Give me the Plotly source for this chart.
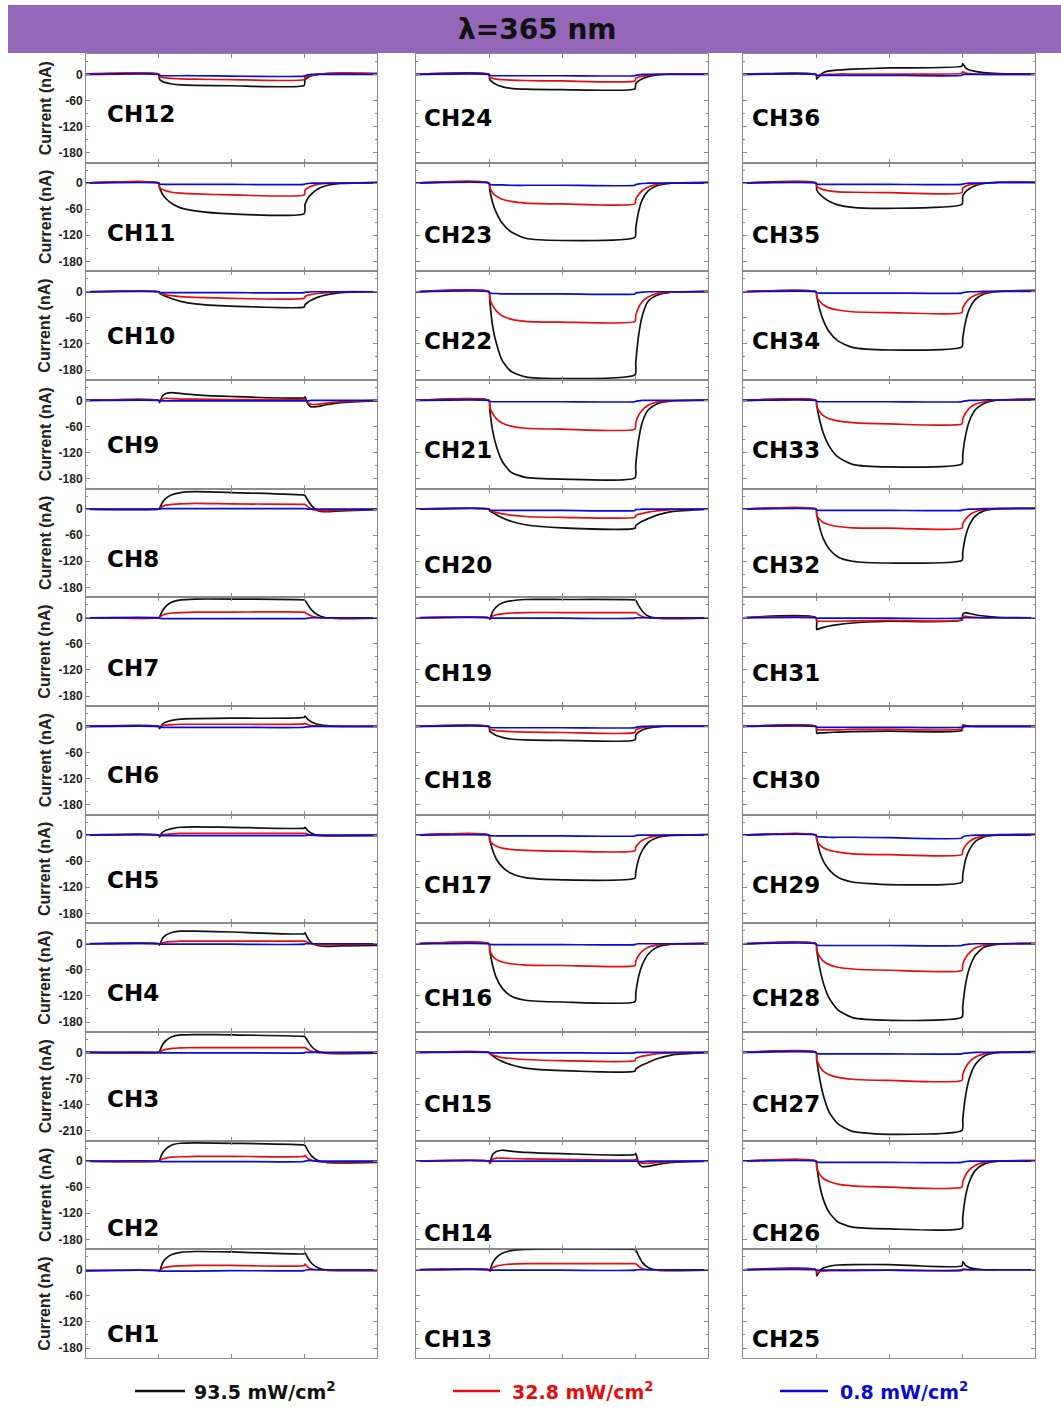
import plotly.graph_objects as go

# ---------------------------------------------------------------------------
# Photocurrent transients of a 36-channel array under 365 nm illumination.
# Light is switched on at t = 1 and off at t = 3 (arbitrary time units).
# ---------------------------------------------------------------------------

T_GRID = [0, 1.0, 1.01, 1.05, 1.1, 1.18, 1.3, 1.5, 2.0, 3.0,
          3.01, 3.05, 3.1, 3.18, 3.3, 3.5, 4.0]

INTENSITY_LABELS = ["93.5 mW/cm<sup>2</sup>", "32.8 mW/cm<sup>2</sup>", "0.8 mW/cm<sup>2</sup>"]

# current (nA) at 93.5 mW/cm2, sampled on T_GRID
CURRENT_93_5 = {
    1: [-2, -2, -4, 15, 26, 35, 40, 42, 41, 37, 39, 27, 15, 5, -1, -2, -2],
    2: [0, 0, 2, 18, 28, 37, 41, 42, 41, 37, 36, 24, 12, 2, -3, -4, -3],
    3: [0, 0, 2, 20, 32, 42, 47, 48, 47, 43, 42, 30, 16, 4, -2, -3, -2],
    4: [0, 0, -3, 12, 20, 26, 29, 29, 27, 23, 25, 12, 2, -4, -6, -5, -4],
    5: [0, 0, -4, 6, 11, 15, 18, 19, 18, 16, 18, 10, 4, 0, -2, -2, -1],
    6: [0, 0, -5, 5, 10, 14, 17, 18, 19, 21, 24, 16, 10, 5, 2, 0, 0],
    7: [0, 0, 2, 16, 27, 36, 41, 43, 43, 41, 40, 30, 18, 7, 0, -2, -1],
    8: [0, 0, 2, 15, 25, 33, 38, 40, 38, 32, 31, 20, 8, -3, -6, -4, -1],
    9: [0, 0, -5, 10, 16, 18, 16, 13, 9, 6, 8, -8, -15, -14, -10, -5, -1],
    10: [0, 0, -3, -7, -11, -16, -22, -28, -33, -35, -30, -24, -19, -13, -7, -2, 0],
    11: [0, 0, -10, -25, -36, -47, -57, -64, -71, -70, -50, -35, -25, -14, -6, -1, 1],
    12: [0, 0, -11, -16, -19, -22, -24, -25, -26, -25, -12, -7, -3, 0, 2, 3, 2],
    13: [0, 0, -2, 16, 28, 38, 44, 47, 48, 47, 46, 32, 17, 5, -1, -2, -1],
    14: [0, 0, -3, 15, 22, 25, 23, 20, 17, 15, 18, -5, -13, -12, -8, -3, 0],
    15: [0, 0, -3, -9, -16, -24, -33, -42, -49, -50, -44, -39, -34, -27, -17, -7, 0],
    16: [0, 0, -15, -50, -78, -102, -120, -130, -134, -133, -115, -75, -48, -24, -8, -1, 1],
    17: [0, 0, -10, -35, -55, -73, -88, -98, -103, -99, -85, -55, -35, -17, -6, -1, 1],
    18: [0, 0, -11, -16, -21, -25, -29, -31, -32, -31, -20, -13, -8, -4, -1, 1, 1],
    19: [0, 0, -3, 14, 25, 34, 39, 42, 42, 41, 40, 28, 15, 4, -1, -2, -1],
    20: [0, 0, -4, -8, -13, -20, -28, -36, -43, -44, -38, -33, -28, -22, -14, -6, 0],
    21: [0, 0, -20, -70, -105, -140, -165, -177, -181, -178, -150, -90, -50, -22, -8, -1, 1],
    22: [0, 0, -20, -80, -118, -158, -183, -196, -200, -191, -165, -100, -55, -22, -8, -1, 1],
    23: [0, 0, -15, -45, -68, -92, -112, -127, -132, -125, -105, -65, -38, -18, -6, 0, 2],
    24: [0, 0, -12, -18, -23, -28, -32, -34, -35, -33, -22, -15, -10, -5, -1, 1, 1],
    25: [0, 0, -14, -3, 4, 8, 11, 12, 12, 9, 19, 10, 5, 2, 0, 0, 0],
    26: [0, 0, -12, -55, -88, -118, -140, -152, -156, -154, -130, -80, -48, -22, -7, 0, 1],
    27: [0, 0, -20, -70, -115, -160, -192, -212, -220, -209, -180, -115, -70, -33, -10, 0, 2],
    28: [0, 0, -15, -55, -90, -125, -152, -170, -176, -169, -145, -92, -57, -27, -8, -1, 1],
    29: [0, 0, -10, -38, -60, -80, -97, -108, -114, -108, -92, -56, -34, -15, -4, 1, 2],
    30: [0, 0, -16, -15, -15, -14, -13, -12, -11, -9, 3, 2, 1, 0, 0, 0, 0],
    31: [0, 0, -27, -25, -22, -19, -16, -12, -8, -5, 8, 12, 10, 7, 4, 1, 0],
    32: [0, 0, -12, -42, -68, -92, -110, -120, -124, -118, -100, -62, -37, -16, -4, 1, 2],
    33: [0, 0, -12, -45, -75, -105, -130, -147, -153, -146, -125, -80, -48, -22, -7, 1, 3],
    34: [0, 0, -10, -40, -66, -92, -113, -128, -134, -127, -108, -68, -40, -18, -5, 1, 3],
    35: [0, 0, -16, -25, -33, -42, -50, -56, -58, -49, -30, -20, -13, -6, -1, 2, 2],
    36: [0, 0, -11, -2, 4, 8, 10, 12, 15, 19, 25, 15, 10, 7, 4, 2, 1],
}

# current (nA) at 32.8 mW/cm2
CURRENT_32_8 = {
    1: [-2, -2, -3, 3, 6, 8, 9, 10, 10, 10, 13, 6, 2, 0, -1, -1, -1],
    2: [0, 0, 1, 5, 7, 9, 10, 11, 11, 11, 13, 6, 2, -1, -2, -2, -1],
    3: [0, 0, 1, 5, 8, 11, 12, 13, 13, 13, 13, 8, 3, 0, -1, -1, 0],
    4: [0, 0, -1, 2, 4, 5, 6, 6, 6, 6, 6, 3, 0, -2, -2, -2, -1],
    5: [0, 0, -2, 1, 2, 3, 4, 4, 4, 4, 4, 2, 0, -1, -1, -1, 0],
    6: [0, 0, -2, 2, 3, 4, 5, 5, 5, 6, 7, 4, 2, 1, 0, 0, 0],
    7: [0, 0, 1, 6, 9, 11, 12, 13, 13, 13, 12, 8, 4, 1, -1, -1, 0],
    8: [0, 0, 1, 6, 9, 11, 12, 13, 12, 11, 11, 5, 0, -3, -4, -2, 0],
    9: [0, 0, -3, 3, 5, 4, 3, 3, 2, 2, 2, -5, -9, -9, -6, -3, 0],
    10: [0, 0, -3, -5, -7, -9, -11, -13, -15, -15, -11, -8, -6, -4, -2, 0, 0],
    11: [0, 0, -10, -15, -18, -21, -23, -25, -27, -27, -17, -11, -7, -3, -1, 0, 1],
    12: [1, 1, -5, -7, -8, -9, -10, -11, -12, -12, -7, -4, -2, 0, 2, 3, 2],
    13: [0, 0, -4, 5, 8, 11, 13, 14, 14, 14, 14, 8, 3, 0, -1, 0, 0],
    14: [0, 0, -6, 4, 7, 7, 6, 5, 4, 3, 4, -2, -5, -5, -3, -1, 0],
    15: [0, 0, -3, -7, -10, -14, -16, -19, -22, -22, -16, -13, -10, -7, -3, -1, 0],
    16: [0, 0, -15, -28, -36, -42, -46, -49, -50, -50, -40, -27, -17, -8, -3, 0, 1],
    17: [0, 0, -12, -20, -25, -30, -33, -35, -37, -36, -28, -19, -12, -6, -2, 0, 1],
    18: [0, 0, -6, -8, -10, -11, -12, -13, -14, -14, -8, -5, -3, -1, 0, 1, 1],
    19: [0, 0, -4, 4, 7, 9, 11, 12, 12, 12, 12, 7, 3, 0, -1, -1, 0],
    20: [0, 0, -3, -6, -8, -11, -14, -17, -19, -19, -15, -12, -10, -7, -4, -1, 0],
    21: [0, 0, -15, -30, -42, -52, -59, -64, -66, -66, -52, -34, -22, -11, -4, -1, 1],
    22: [0, 0, -15, -32, -44, -55, -63, -68, -70, -68, -55, -36, -23, -12, -4, -1, 1],
    23: [0, 0, -10, -22, -30, -37, -42, -46, -48, -48, -38, -26, -17, -9, -3, 0, 1],
    24: [0, 0, -7, -9, -11, -12, -13, -14, -15, -15, -9, -6, -4, -2, 0, 1, 1],
    25: [0, 0, -8, -4, -3, -2, -2, -2, -1, -1, 2, 1, 0, 0, 0, 0, 0],
    26: [0, 0, -15, -30, -40, -47, -53, -57, -60, -60, -48, -32, -20, -10, -3, 0, 1],
    27: [0, 0, -18, -37, -50, -60, -67, -72, -75, -75, -60, -40, -26, -13, -4, 0, 1],
    28: [0, 0, -15, -30, -40, -48, -54, -58, -61, -61, -48, -32, -21, -10, -3, 0, 1],
    29: [0, 0, -12, -22, -29, -35, -39, -43, -45, -45, -36, -24, -15, -7, -2, 0, 1],
    30: [0, 0, -8, -8, -8, -8, -8, -7, -7, -6, -1, 0, 0, 0, 0, 0, 0],
    31: [0, 0, -8, -8, -8, -8, -8, -7, -6, -5, 3, 3, 2, 1, 0, 0, 0],
    32: [0, 0, -14, -24, -31, -36, -40, -43, -44, -44, -34, -23, -14, -6, -1, 1, 2],
    33: [0, 0, -14, -26, -35, -42, -47, -51, -54, -54, -43, -29, -18, -9, -3, 1, 2],
    34: [0, 0, -12, -22, -30, -37, -42, -46, -48, -48, -38, -26, -16, -8, -2, 1, 2],
    35: [0, 0, -8, -12, -15, -18, -20, -21, -22, -22, -12, -7, -4, -2, 0, 2, 2],
    36: [0, 0, -4, -2, -1, 0, 1, 1, 1, 3, 6, 3, 2, 1, 0, 0, 0],
}

# current (nA) at 0.8 mW/cm2
CURRENT_0_8 = {
    1: [-2, -2, -3, -3, -3, -3, -3, -3, -2, -2, -1, 0, 0, 0, 0, 0, 0],
    2: [0, 0, -1, -1, -1, -1, -1, -1, -1, -1, 0, 1, 1, 0, 0, 0, 0],
    3: [0, 0, -1, -1, -1, -1, -1, -1, -1, -1, 0, 0, 0, 0, 0, 0, 0],
    4: [0, 0, -1, -1, -1, -1, -1, -1, -1, -1, 0, 0, 0, 0, 0, 0, 0],
    5: [0, 0, -1, -1, -1, -1, -1, -1, -1, -1, -1, 0, 0, 0, 0, 0, 0],
    6: [0, 0, -1, -2, -2, -2, -2, -2, -2, -2, -1, -1, 0, 0, 0, 0, 0],
    7: [0, 0, -1, -2, -2, -2, -2, -2, -2, -2, -2, -1, 0, 0, 0, 0, 0],
    8: [0, 0, 0, 1, 1, 1, 1, 1, 1, 1, 1, 0, 0, 0, 0, 0, 0],
    9: [0, 0, -1, -1, -1, -1, -1, -1, -1, -1, -1, -1, 0, 0, 0, 0, 0],
    10: [0, 0, -1, -2, -2, -2, -2, -2, -2, -2, -1, -1, 0, 0, 0, 0, 0],
    11: [0, 0, -2, -3, -3, -3, -3, -3, -3, -3, -2, -1, 0, 0, 0, 0, 1],
    12: [0, 0, -2, -3, -3, -3, -3, -3, -4, -4, -3, -1, 0, 0, 0, 0, 0],
    13: [0, 0, -1, -1, -1, -1, -1, -1, -1, -1, 0, 0, 0, 0, 0, 0, 0],
    14: [0, 0, -1, 0, 0, 0, 0, 0, 0, 0, 0, -1, -1, 0, 0, 0, 0],
    15: [0, 0, -1, -1, -1, -1, -1, -1, -1, -1, 0, 0, 0, 0, 0, 0, 0],
    16: [0, 0, -1, -2, -2, -2, -2, -2, -2, -2, -1, 0, 0, 0, 0, 0, 0],
    17: [0, 0, -1, -2, -2, -2, -2, -2, -2, -2, -1, 0, 0, 0, 0, 0, 0],
    18: [0, 0, -2, -3, -3, -3, -3, -3, -3, -3, -2, -1, 0, 0, 0, 0, 0],
    19: [0, 0, -1, -1, -1, -1, -1, -1, -1, -1, 0, 0, 0, 0, 0, 0, 0],
    20: [0, 0, -2, -3, -3, -3, -3, -3, -3, -3, -1, -1, 0, 0, 0, 0, 0],
    21: [0, 0, -2, -3, -3, -3, -3, -3, -3, -3, -2, -1, 0, 0, 0, 0, 0],
    22: [0, 0, -3, -4, -4, -5, -5, -5, -5, -5, -3, -2, -1, 0, 0, 0, 0],
    23: [0, 0, -3, -4, -4, -4, -5, -5, -5, -5, -3, -2, -1, 0, 0, 0, 0],
    24: [0, 0, -2, -3, -3, -3, -3, -3, -3, -3, -2, -1, 0, 0, 0, 0, 0],
    25: [0, 0, -1, -1, -1, -1, -1, -1, -1, -1, 0, 0, 0, 0, 0, 0, 0],
    26: [0, 0, -2, -3, -3, -3, -3, -3, -3, -3, -2, -1, 0, 0, 0, 0, 0],
    27: [0, 0, -3, -4, -4, -4, -4, -4, -4, -4, -3, -2, -1, 0, 0, 0, 0],
    28: [0, 0, -3, -4, -4, -4, -4, -4, -4, -4, -3, -2, -1, 0, 0, 0, 0],
    29: [0, 0, -3, -4, -4, -5, -5, -5, -6, -7, -4, -2, -1, 0, 0, 0, 0],
    30: [0, 0, -2, -2, -2, -2, -2, -2, -2, -2, -1, 0, 0, 0, 0, 0, 0],
    31: [0, 0, -1, -1, -1, -1, -1, -1, -1, -1, 0, 0, 0, 0, 0, 0, 0],
    32: [0, 0, -2, -3, -3, -3, -3, -3, -3, -3, -2, -1, 0, 0, 1, 1, 1],
    33: [0, 0, -2, -3, -3, -3, -3, -3, -3, -3, -2, -1, 0, 0, 1, 1, 1],
    34: [0, 0, -2, -3, -3, -3, -3, -3, -3, -3, -2, -1, 0, 0, 1, 1, 1],
    35: [0, 0, -2, -3, -3, -3, -3, -3, -3, -3, -2, -1, 0, 0, 0, 1, 1],
    36: [0, 0, -2, -2, -2, -2, -2, -2, -2, -2, 0, 0, 0, 0, 0, 0, 0],
}

# panel arrangement: rows top to bottom, columns left to right
CHANNEL_GRID = [
    [12, 24, 36], [11, 23, 35], [10, 22, 34], [9, 21, 33],
    [8, 20, 32], [7, 19, 31], [6, 18, 30], [5, 17, 29],
    [4, 16, 28], [3, 15, 27], [2, 14, 26], [1, 13, 25],
]

YTICKS_60 = [0, -60, -120, -180]
YTICKS_70 = [0, -70, -140, -210]
WIDE_ROW = 9  # the CH3 / CH15 / CH27 row uses the 70 nA tick spacing

# ---------------------------------------------------------------------------
# layout geometry (pixels)
# ---------------------------------------------------------------------------
W, H = 1061, 1407
COL_X = [(86, 377), (416, 708), (743, 1035)]
ROW_TOP, ROW_BOTTOM = 54, 1358
ROW_H = (ROW_BOTTOM - ROW_TOP) / 12
LABEL_X = [105, 422, 750]
LABEL_Y = {
    12: 114, 11: 233, 10: 336, 9: 445, 8: 559, 7: 668,
    6: 775, 5: 880, 4: 993, 3: 1099, 2: 1228, 1: 1334,
    24: 118, 23: 235, 22: 341, 21: 450, 20: 565, 19: 673,
    18: 780, 17: 885, 16: 998, 15: 1104, 14: 1233, 13: 1339,
    36: 118, 35: 235, 34: 341, 33: 450, 32: 565, 31: 673,
    30: 780, 29: 885, 28: 998, 27: 1104, 26: 1233, 25: 1339,
}

LINE_COLORS = ["#111111", "rgb(232,12,12)", "rgb(10,10,215)"]
AXIS_GREY = "#8a8a8a"
SERIES = [CURRENT_93_5, CURRENT_32_8, CURRENT_0_8]
SANS = "Liberation Sans, Arial, sans-serif"


def px_x(x):
    return x / W


def px_y(y):
    return 1 - y / H


fig = go.Figure()
layout = {}
annotations = []
shapes = []

for r, row in enumerate(CHANNEL_GRID):
    top = ROW_TOP + r * ROW_H
    bottom = top + ROW_H
    ticks = YTICKS_70 if r == WIDE_ROW else YTICKS_60
    step = ticks[0] - ticks[1]
    yrange = [-203 * step / 60, 47 * step / 60]
    minor_vals = [step / 2] + [t - step / 2 for t in ticks[1:]]
    for c, ch in enumerate(row):
        k = r * 3 + c + 1
        sx = "" if k == 1 else str(k)
        x0, x1 = COL_X[c]
        layout["xaxis" + sx] = dict(
            domain=[px_x(x0), px_x(x1)], range=[0, 4], anchor="y" + sx,
            showline=True, linecolor=AXIS_GREY, linewidth=1, mirror="ticks",
            ticks="inside", ticklen=4, tickcolor=AXIS_GREY, tickwidth=1,
            tickvals=[1, 2, 3], showticklabels=False,
            showgrid=False, zeroline=False, fixedrange=True,
        )
        layout["yaxis" + sx] = dict(
            domain=[px_y(bottom), px_y(top)], range=yrange, anchor="x" + sx,
            showline=True, linecolor=AXIS_GREY, linewidth=1, mirror="ticks",
            ticks="inside", ticklen=4, tickcolor=AXIS_GREY, tickwidth=1,
            tickvals=ticks, ticktext=[f"<b>{t}</b>" for t in ticks],
            showticklabels=(c == 0),
            tickfont=dict(family=SANS, size=12, color="#222222"),
            minor=dict(ticks="inside", ticklen=2, tickcolor=AXIS_GREY, tickvals=minor_vals),
            showgrid=False, zeroline=False, fixedrange=True,
        )
        for series, color in zip(SERIES, LINE_COLORS):
            fig.add_trace(go.Scatter(
                x=T_GRID, y=series[ch], mode="lines",
                line=dict(color=color, width=1.7, shape="spline", smoothing=0.6),
                xaxis="x" + sx, yaxis="y" + sx,
                showlegend=False, hoverinfo="skip",
            ))
        annotations.append(dict(
            text=f"<b>CH{ch}</b>", x=px_x(LABEL_X[c]), y=px_y(LABEL_Y[ch]),
            xref="paper", yref="paper", xanchor="left", yanchor="middle",
            showarrow=False, font=dict(family="DejaVu Sans", size=23, color="#000000"),
        ))
    # y axis title for the left column
    annotations.append(dict(
        text="<b>Current (nA)</b>", x=px_x(45), y=px_y((top + bottom) / 2),
        xref="paper", yref="paper", xanchor="center", yanchor="middle",
        textangle=-90, showarrow=False,
        font=dict(family=SANS, size=16, color="#222222"),
    ))

# title banner
shapes.append(dict(
    type="rect", xref="paper", yref="paper", layer="below",
    x0=px_x(8), x1=1, y0=px_y(53), y1=px_y(5),
    fillcolor="#9467b9", line=dict(width=0),
))
annotations.append(dict(
    text="<b>\u03bb=365 nm</b>", x=px_x(537), y=px_y(30),
    xref="paper", yref="paper", xanchor="center", yanchor="middle",
    showarrow=False, font=dict(family="DejaVu Sans", size=28, color="#111111"),
))

# legend for the three illumination intensities
LEGEND_LINE_X = [(135, 185), (453, 500), (780, 828)]
LEGEND_TEXT_X = [192, 510, 838]
LEGEND_Y = 1391
for (lx0, lx1), tx, label, color in zip(LEGEND_LINE_X, LEGEND_TEXT_X, INTENSITY_LABELS, LINE_COLORS):
    shapes.append(dict(
        type="line", xref="paper", yref="paper",
        x0=px_x(lx0), x1=px_x(lx1), y0=px_y(LEGEND_Y), y1=px_y(LEGEND_Y),
        line=dict(color=color, width=2.5),
    ))
    annotations.append(dict(
        text=f"<b>{label}</b>", x=px_x(tx), y=px_y(LEGEND_Y),
        xref="paper", yref="paper", xanchor="left", yanchor="middle",
        showarrow=False, font=dict(family="DejaVu Sans", size=19, color=color),
    ))

fig.update_layout(
    width=W, height=H, autosize=False,
    margin=dict(l=0, r=0, t=0, b=0),
    paper_bgcolor="white", plot_bgcolor="white",
    annotations=annotations, shapes=shapes,
    **layout,
)

fig.write_html("out.html")
